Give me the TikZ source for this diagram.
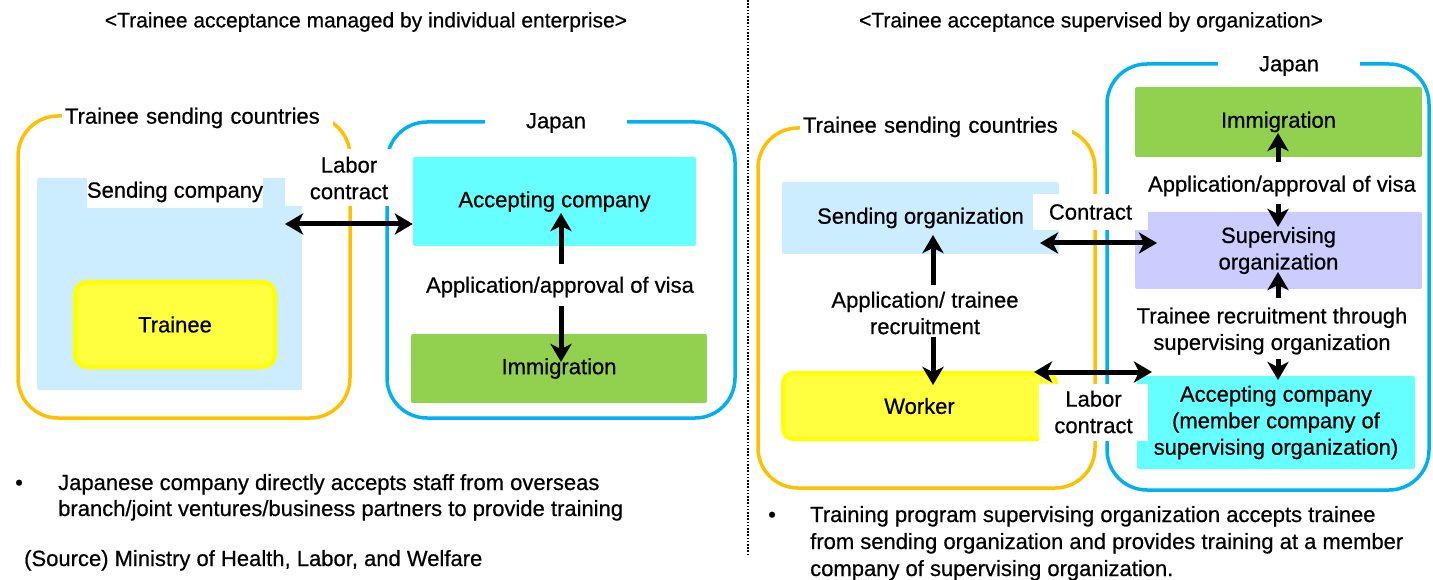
\documentclass[tikz,border=0pt]{standalone}
\usepackage{fontspec}
\setmainfont{Liberation Sans}[FakeBold=0.6]
\newfontfamily\boldish{Liberation Sans}[FakeBold=0.6]
\usetikzlibrary{arrows.meta}
\definecolor{orangeline}{HTML}{FFC000}
\definecolor{blueline}{HTML}{00B0F0}
\definecolor{paleblue}{HTML}{CCECFF}
\definecolor{cyanfill}{HTML}{66FFFF}
\definecolor{greenfill}{HTML}{92D050}
\definecolor{lavender}{HTML}{CCCCFF}
\definecolor{yellowfill}{HTML}{FFFF40}
\definecolor{yellowline}{HTML}{FFFF00}
\begin{document}
\begin{tikzpicture}[x=1pt,y=-1pt,
  font=\boldish\fontsize{22}{26.5}\selectfont,
  region/.style={draw, line width=3.5pt, rounded corners=40pt, inner sep=0pt},
  gaplabel/.style={fill=white, inner xsep=0pt, inner ysep=5pt},
  whitelabel/.style={fill=white, inner sep=0pt, align=center},
  fillbox/.style={rectangle, rounded corners=2pt, inner sep=0pt, align=center},
  yellowbox/.style={fill=yellowfill, draw=yellowline, line width=4pt, rounded corners=12pt, inner sep=0pt},
  lbl/.style={inner sep=0pt, align=center},
  plain/.style={inner sep=0pt, anchor=base west},
  arr/.style={line width=5pt, -{Stealth[length=18pt,width=21pt,inset=5pt]}},
  darr/.style={line width=5pt, {Stealth[length=18pt,width=21pt,inset=5pt]}-{Stealth[length=18pt,width=21pt,inset=5pt]}},
  divider/.style={line width=1.6pt, dash pattern=on 1.6pt off 1.6pt}
]
\useasboundingbox (0,0) rectangle (1433,580);

% ---------- divider ----------
\coordinate (divtop) at (748,0);
\coordinate (divbot) at (748,556);
\draw[divider] (divtop) -- (divbot);

% ---------- titles ----------
\node[lbl, font=\boldish\fontsize{21}{26}\selectfont] (titleL) at (366,22) {<Trainee acceptance managed by individual enterprise>};
\node[lbl, font=\boldish\fontsize{21}{26}\selectfont] (titleR) at (1091,22) {<Trainee acceptance supervised by organization>};

% ================= left scheme =================
\node[region, draw=orangeline, minimum width=332pt, minimum height=302pt] (tscL) at (184,267) {};
\node[region, draw=blueline, minimum width=348pt, minimum height=296pt] (japL) at (561,270) {};
\node[gaplabel, text width=265pt, inner xsep=3pt, align=left] (tscLlab) at (197.5,118) {Trainee sending countries};
\node[gaplabel, minimum width=142pt] (japLlab) at (556,123) {Japan};

\node[fillbox, fill=paleblue, minimum width=265pt, minimum height=212pt] (sendco) at (169.5,284) {};
\node[whitelabel, minimum width=174pt, minimum height=32pt] (sendcolab) at (175,192) {Sending company};
\node[yellowbox, minimum width=200pt, minimum height=85pt] (trainee) at (175,324.5) {Trainee};

\node[fillbox, fill=cyanfill, minimum width=283pt, minimum height=89pt] (accL) at (554.5,201.5) {\raisebox{-3pt}{Accepting company}};
\node[fillbox, fill=greenfill, minimum width=296pt, minimum height=69pt] (immL) at (559,368.5) {\raisebox{-2pt}{Immigration}};
\node[lbl] (visaL) at (560,287) {Application/approval of visa};
\coordinate (vLu) at (561,213);
\coordinate (vLd) at (561,362);
\draw[arr, shorten <=13pt] (visaL.north -| vLu) -- (vLu);
\draw[arr, shorten <=9pt] (visaL.south -| vLd) -- (vLd);

\node[whitelabel, minimum width=128pt, minimum height=57pt] (lcL) at (349,178) {Labor\\contract};
\coordinate (lcLa) at (285,224);
\draw[darr] (lcLa) -- (accL.west |- lcLa);

\node[plain] (bulL) at (15,490) {\textbullet};
\node[plain] (noteL1) at (58,490) {Japanese company directly accepts staff from overseas};
\node[plain] (noteL2) at (58,516) {branch/joint ventures/business partners to provide training};
\node[plain] (source) at (24,566) {(Source) Ministry of Health, Labor, and Welfare};

% ================= right scheme =================
\node[region, draw=orangeline, minimum width=337pt, minimum height=360pt] (tscR) at (926.5,308) {};
\node[region, draw=blueline, minimum width=322pt, minimum height=426pt] (japR) at (1268,277) {};
\node[gaplabel, text width=266pt, inner xsep=3pt, align=left] (tscRlab) at (936,127) {Trainee sending countries};
\node[gaplabel, minimum width=142pt] (japRlab) at (1289,66) {Japan};

\node[fillbox, fill=greenfill, minimum width=287pt, minimum height=70pt] (immR) at (1278.5,122) {\raisebox{-2pt}{Immigration}};
\node[fillbox, fill=lavender, minimum width=287pt, minimum height=77pt] (sup) at (1278.5,250.5) {Supervising\\organization};
\node[fillbox, fill=cyanfill, minimum width=278pt, minimum height=93pt] (accR) at (1276,422.5) {Accepting company\\(member company of\\supervising organization)};

\node[fillbox, fill=paleblue, minimum width=277pt, minimum height=72pt] (sendorg) at (920.5,218) {\raisebox{-1pt}{Sending organization}};
\node[yellowbox, rounded corners=10pt, minimum width=273pt, minimum height=66pt] (worker) at (919.5,406) {\raisebox{-2pt}{Worker}};

\node[lbl] (visaR) at (1282,186) {Application/approval of visa};
\coordinate (vRu) at (1278,133);
\coordinate (vRd) at (1278,227);
\draw[arr, shorten <=14pt] (visaR.north -| vRu) -- (vRu);
\draw[arr, shorten <=8pt] (visaR.south -| vRd) -- (vRd);

\node[lbl] (recR) at (1272,331) {Trainee recruitment through\\supervising organization};
\coordinate (rRu) at (1278,272);
\coordinate (rRd) at (1278,380);
\draw[arr, shorten <=9pt] (recR.north -| rRu) -- (rRu);
\draw[arr, shorten <=4pt] (recR.south -| rRd) -- (rRd);

\node[lbl] (applR) at (925,313) {Application/ trainee\\recruitment};
\coordinate (aRu) at (933,235);
\coordinate (aRd) at (933,385);
\draw[arr, shorten <=6pt] (applR.north -| aRu) -- (aRu);
\draw[arr, shorten <=2pt] (applR.south -| aRd) -- (aRd);

\node[whitelabel, minimum width=115pt, minimum height=36pt] (ctR) at (1090.5,212) {Contract};
\coordinate (ctRa) at (1040,243);
\coordinate (ctRb) at (1157,243);
\draw[darr] (ctRa) -- (ctRb);

\node[whitelabel, minimum width=109pt, minimum height=57pt] (lcR) at (1093.5,412) {Labor\\contract};
\coordinate (lcRa) at (1034,372);
\coordinate (lcRb) at (1152,372);
\draw[darr] (lcRa) -- (lcRb);

\node[plain] (bulR) at (768,522) {\textbullet};
\node[plain] (noteR1) at (810,522) {Training program supervising organization accepts trainee};
\node[plain] (noteR2) at (810,549) {from sending organization and provides training at a member};
\node[plain] (noteR3) at (810,576) {company of supervising organization.};
\end{tikzpicture}
\end{document}
